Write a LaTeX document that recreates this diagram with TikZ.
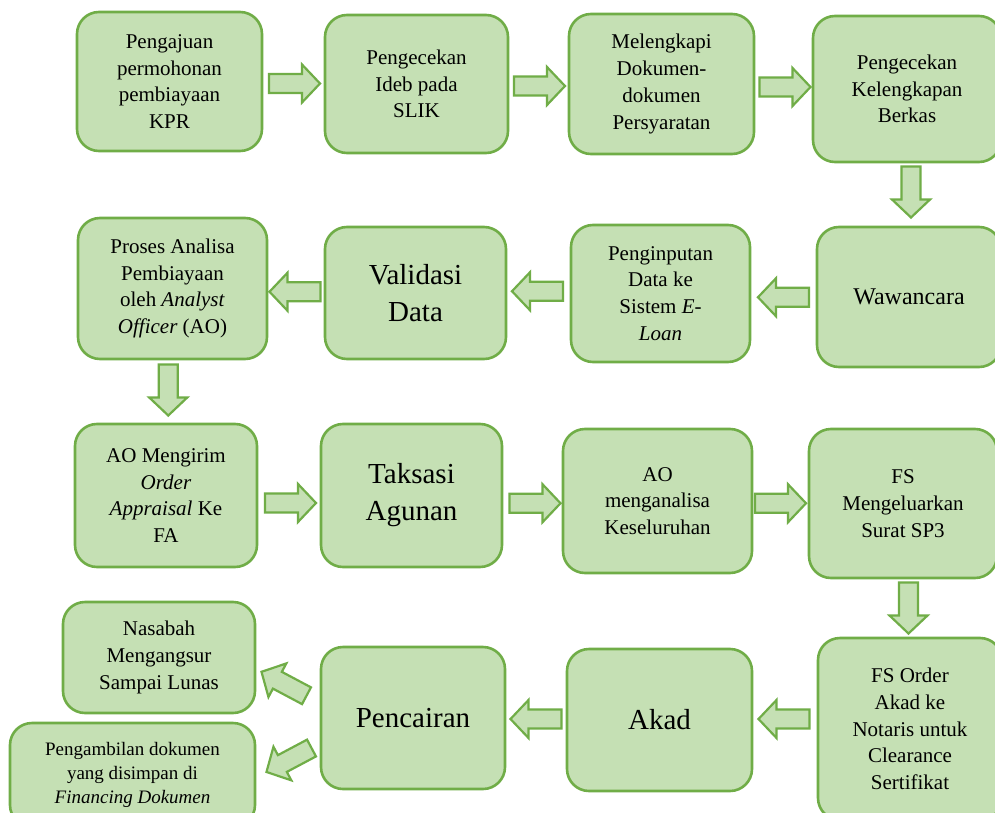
\documentclass[tikz,border=0pt]{standalone}
\usepackage{fontspec}
\setmainfont{Liberation Serif}
\usetikzlibrary{calc}
\definecolor{boxfill}{HTML}{C5E0B4}
\definecolor{boxline}{HTML}{70AD47}
\tikzset{
  stepbox/.style={draw=boxline, fill=boxfill, line width=2.6pt, rounded corners=22pt,
    align=center, inner sep=0pt, font=\fontsize{21}{26.7}\selectfont},
  bigtxt/.style={font=\fontsize{29}{37}\selectfont},
  midtxt/.style={font=\fontsize{24}{30}\selectfont},
  smalltxt/.style={font=\fontsize{19}{24}\selectfont},
  barrow/.pic={\draw[draw=boxline, fill=boxfill, line width=2.2pt, line join=miter]
    (-25.5,-9.5) -- (7.5,-9.5) -- (7.5,-19) -- (25.5,0) -- (7.5,19) -- (7.5,9.5) -- (-25.5,9.5) -- cycle;}
}
\begin{document}
\begin{tikzpicture}[x=1pt,y=-1pt]
\fill[white] (0,0) rectangle (995,813);
\useasboundingbox (0,0) rectangle (995,813);
% row 1
\node[stepbox, minimum width=185pt, minimum height=139pt] (b1) at (169.5,81.5) {Pengajuan\\permohonan\\pembiayaan\\KPR};
\node[stepbox, minimum width=183pt, minimum height=138pt] (b2) at (416.5,84) {Pengecekan\\Ideb pada\\SLIK};
\node[stepbox, minimum width=185pt, minimum height=140pt] (b3) at (661.5,84) {Melengkapi\\Dokumen-\\dokumen\\Persyaratan};
\node[stepbox, minimum width=188pt, minimum height=146pt] (b4) at (907,89) {Pengecekan\\Kelengkapan\\Berkas};
% row 2
\node[stepbox, midtxt, minimum width=184pt, minimum height=140pt] (b5) at (909,297) {Wawancara};
\node[stepbox, minimum width=179pt, minimum height=137pt] (b6) at (660.5,293.5) {Penginputan\\Data ke\\Sistem \textit{E-}\\\textit{Loan}};
\node[stepbox, bigtxt, minimum width=181pt, minimum height=132pt] (b7) at (415.5,293) {Validasi\\Data};
\node[stepbox, minimum width=189pt, minimum height=141pt] (b8) at (172.5,288.5) {Proses Analisa\\Pembiayaan\\oleh \textit{Analyst}\\\textit{Officer} (AO)};
% row 3
\node[stepbox, minimum width=182pt, minimum height=143pt] (b9) at (166,495.5) {AO Mengirim\\\textit{Order}\\\textit{Appraisal} Ke\\FA};
\node[stepbox, bigtxt, minimum width=181pt, minimum height=143pt] (b10) at (411.5,495.5) {Taksasi\\Agunan};
\node[stepbox, minimum width=189pt, minimum height=144pt] (b11) at (657.5,501) {AO\\menganalisa\\Keseluruhan};
\node[stepbox, minimum width=188pt, minimum height=149pt] (b12) at (903,503.5) {FS\\Mengeluarkan\\Surat SP3};
% row 4
\node[stepbox, minimum width=184pt, minimum height=182pt] (b13) at (910,729) {FS Order\\Akad ke\\Notaris untuk\\Clearance\\Sertifikat};
\node[stepbox, bigtxt, minimum width=185pt, minimum height=142pt] (b14) at (659.5,720) {Akad};
\node[stepbox, bigtxt, minimum width=184pt, minimum height=142pt] (b15) at (413,718) {Pencairan};
\node[stepbox, minimum width=192pt, minimum height=111pt] (b16) at (159,657.5) {Nasabah\\Mengangsur\\Sampai Lunas};
\node[stepbox, smalltxt, minimum width=245pt, minimum height=104pt] (b17) at (132.5,775) {Pengambilan dokumen\\yang disimpan di\\\textit{Financing Dokumen}};
% block arrows between steps
\pic at ($(b1.east)!0.5!(b2.west)+(1,0.75)$) {barrow};
\pic at ($(b2.east)!0.5!(b3.west)+(1,2)$) {barrow};
\pic at ($(b3.east)!0.5!(b4.west)+(1.5,0.5)$) {barrow};
\pic[rotate=-90] at ($(b4.south)!0.5!(b5.north)+(3,-2.5)$) {barrow};
\pic[rotate=180] at ($(b5.west)!0.5!(b6.east)+(0,2)$) {barrow};
\pic[rotate=180] at ($(b6.west)!0.5!(b7.east)+(-1,-2)$) {barrow};
\pic[rotate=180] at ($(b7.west)!0.5!(b8.east)+(-1,1)$) {barrow};
\pic[rotate=-90] at ($(b8.south)!0.5!(b9.north)+(-1,-1.5)$) {barrow};
\pic at ($(b9.east)!0.5!(b10.west)+(1.5,7.5)$) {barrow};
\pic at ($(b10.east)!0.5!(b11.west)+(2.5,5)$) {barrow};
\pic at ($(b11.east)!0.5!(b12.west)+(0,1)$) {barrow};
\pic[rotate=-90] at ($(b12.south)!0.5!(b13.north)+(2,0)$) {barrow};
\pic[rotate=180] at ($(b13.west)!0.5!(b14.east)+(-1,-5.5)$) {barrow};
\pic[rotate=180] at ($(b14.west)!0.5!(b15.east)$) {barrow};
\pic[rotate=152] at ($(b15.west)!0.5!(b16.east)+(-4,-4)$) {barrow};
\pic[rotate=208] at ($(b15.west)!0.5!(b17.east)+(1,13.5)$) {barrow};
\end{tikzpicture}
\end{document}
